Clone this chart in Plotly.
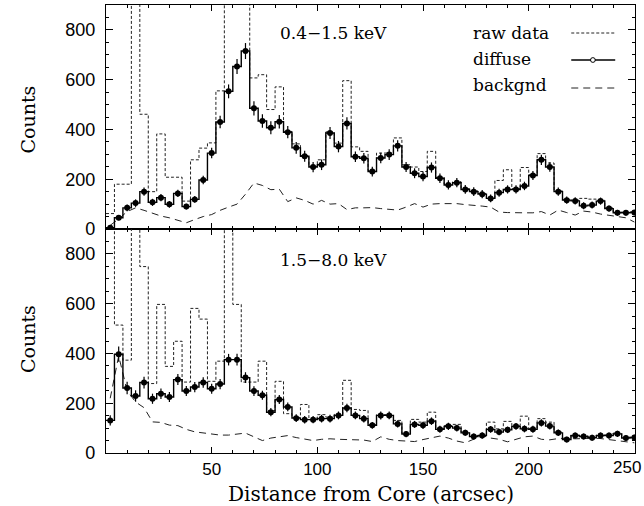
import numpy as np
import plotly.graph_objects as go

# bin centers (arcsec), 4" bins
centers = list(range(2, 252, 4))

soft_diffuse = [5, 45, 85, 104, 150, 107, 126, 99, 143, 90, 119, 197, 305, 430, 553, 653, 715, 485, 434, 407,
                431, 389, 326, 292, 249, 258, 386, 331, 424, 290, 284, 231, 285, 299, 334, 249, 224, 211, 247, 204,
                177, 186, 159, 150, 140, 123, 146, 159, 159, 173, 215, 278, 249, 150, 116, 113, 93, 96, 112, 82,
                65, 65, 66]
soft_raw = [62, 180, 180, 1500, 461, 150, 382, 208, 208, 112, 278, 325, 346, 555, 1500, 1500, 1500, 607, 620, 480,
            571, 392, 342, 295, 252, 278, 390, 345, 596, 330, 312, 235, 305, 305, 366, 258, 249, 231, 312, 207,
            180, 190, 162, 153, 143, 126, 195, 238, 162, 247, 218, 303, 265, 153, 119, 116, 123, 120, 115, 85,
            68, 68, 69]
soft_bkg = [15, 40, 70, 85, 75, 62, 52, 45, 35, 25, 38, 50, 58, 75, 88, 100, 140, 185, 175, 158,
            160, 110, 125, 115, 100, 115, 100, 102, 78, 85, 85, 86, 82, 78, 76, 88, 102, 88, 100, 102,
            102, 102, 98, 96, 92, 88, 68, 66, 67, 65, 65, 70, 56, 76, 66, 56, 72, 68, 60, 55,
            50, 45, 28]

hard_diffuse = [131, 397, 261, 229, 283, 218, 238, 225, 295, 249, 265, 283, 258, 277, 375, 375, 303, 249, 232, 164,
                215, 185, 140, 134, 134, 138, 138, 151, 181, 151, 138, 111, 151, 151, 117, 76, 115, 111, 128, 95,
                107, 100, 81, 66, 70, 95, 84, 93, 107, 97, 95, 121, 108, 81, 54, 70, 66, 61, 70, 70,
                77, 60, 62]
hard_raw = [1500, 514, 373, 1500, 749, 279, 597, 348, 449, 285, 581, 538, 288, 369, 1500, 597, 285, 285, 369, 170,
            288, 158, 143, 195, 140, 154, 144, 155, 292, 175, 171, 114, 154, 154, 131, 79, 135, 124, 164, 98,
            110, 115, 84, 69, 73, 124, 97, 127, 110, 148, 98, 138, 124, 84, 57, 73, 69, 64, 73, 73,
            80, 63, 65]
hard_bkg = [220, 390, 250, 205, 182, 125, 123, 112, 110, 95, 85, 80, 76, 72, 72, 76, 80, 65, 50, 60,
            64, 70, 62, 55, 50, 55, 57, 55, 54, 54, 52, 46, 65, 55, 50, 48, 46, 54, 60, 68,
            60, 48, 41, 55, 70, 60, 55, 45, 55, 65, 68, 55, 53, 58, 60, 57, 58, 60, 58, 54,
            50, 46, 41]

x_tickvals = [50, 100, 150, 200, 250]
x_ticktext = ["50", "100", "150", "200", ""]   # last label drawn separately so it stays inside the page
last_x_label = "250"
y_tickvals = [0, 200, 400, 600, 800]
band_labels = ["0.4\u22121.5 keV", "1.5\u22128.0 keV"]
legend_labels = ["raw data", "diffuse", "backgnd"]

SERIF = "DejaVu Serif"
SANS = "Liberation Sans"

fig = go.Figure()
c = np.array(centers, dtype=float)
edges = np.r_[c - 2, c[-1] + 2]


def steps(v):
    return np.r_[np.array(v, dtype=float), v[-1]]


panels = [(soft_raw, soft_diffuse, soft_bkg, "x", "y"),
          (hard_raw, hard_diffuse, hard_bkg, "x2", "y2")]
for raw, dif, bkg, xa, ya in panels:
    fig.add_trace(go.Scatter(x=edges, y=steps(raw), mode="lines", line_shape="hv",
                             line=dict(color="#222", width=1, dash="3px,2px"),
                             xaxis=xa, yaxis=ya, showlegend=False))
    fig.add_trace(go.Scatter(x=c, y=bkg, mode="lines",
                             line=dict(color="#222", width=1, dash="7px,5px"),
                             xaxis=xa, yaxis=ya, showlegend=False))
    fig.add_trace(go.Scatter(x=edges, y=steps(dif), mode="lines", line_shape="hv",
                             line=dict(color="black", width=1.4),
                             xaxis=xa, yaxis=ya, showlegend=False))
    err = 1.1 * np.sqrt(np.array(dif, dtype=float) + np.array(bkg, dtype=float))
    fig.add_trace(go.Scatter(x=c, y=dif, mode="markers",
                             marker=dict(color="black", size=6, symbol="circle"),
                             error_y=dict(type="data", array=err, color="black", thickness=1.2, width=0),
                             xaxis=xa, yaxis=ya, showlegend=False))

axis_common = dict(showline=True, linecolor="black", linewidth=1.2, mirror="allticks",
                   ticks="inside", tickcolor="black", tickwidth=1, showgrid=False, zeroline=False,
                   tickfont=dict(family=SANS, size=18, color="black"), ticklabeloverflow="allow",
                   automargin=False)
xmin = dict(dtick=10, tick0=0, ticklen=3, ticks="inside", tickcolor="black")
ymin = dict(dtick=50, tick0=0, ticklen=3, ticks="inside", tickcolor="black")

fig.update_layout(
    width=644, height=506,
    margin=dict(l=106, r=9, t=5, b=53, autoexpand=False),
    paper_bgcolor="white", plot_bgcolor="white",
    xaxis=dict(domain=[0, 1], anchor="y", range=[0, 250.3], tickvals=x_tickvals, ticklen=6,
               showticklabels=False, minor=xmin, **axis_common),
    yaxis=dict(domain=[0.5, 1], anchor="x", range=[0, 900], tickvals=y_tickvals, ticklen=7,
               ticklabelstandoff=6, minor=ymin, **axis_common),
    xaxis2=dict(domain=[0, 1], anchor="y2", range=[0, 250.3], tickvals=x_tickvals, ticktext=x_ticktext,
                ticklen=6, ticklabelstandoff=0, minor=xmin, **axis_common),
    yaxis2=dict(domain=[0, 0.5], anchor="x2", range=[0, 900], tickvals=y_tickvals, ticklen=7,
                ticklabelstandoff=6, minor=ymin, **axis_common),
)
fig.update_xaxes(tickfont=dict(family=SANS, size=17, color="black"))

ann = []
# axis titles
for yc in [0.745, 0.255]:
    ann.append(dict(text="Counts", xref="paper", yref="paper", x=-0.147, y=yc, textangle=-90,
                    showarrow=False, font=dict(family=SERIF, size=19, color="black"),
                    xanchor="center", yanchor="middle"))
ann.append(dict(text="Distance from Core (arcsec)", xref="paper", yref="paper", x=0.5, y=-0.091,
                showarrow=False, font=dict(family=SERIF, size=20, color="black"),
                xanchor="center", yanchor="middle"))
ann.append(dict(text=last_x_label, xref="paper", yref="paper", x=1.0151, y=-0.0315, showarrow=False,
                font=dict(family=SANS, size=17, color="black"), xanchor="right", yanchor="middle",
                xshift=0))
# band labels
for lbl, yp in zip(band_labels, [0.9375, 0.4308]):
    ann.append(dict(text=lbl, xref="paper", yref="paper", x=0.4306, y=yp, showarrow=False,
                    font=dict(family=SERIF, size=17, color="black"), xanchor="center", yanchor="middle"))
# legend text
for lbl, yp in zip(legend_labels, [0.9375, 0.8795, 0.8214]):
    ann.append(dict(text=lbl, xref="paper", yref="paper", x=0.6906, y=yp, showarrow=False,
                    font=dict(family=SERIF, size=17, color="black"), xanchor="left", yanchor="middle"))
fig.update_layout(annotations=ann)

shapes = [
    dict(type="line", xref="paper", yref="paper", x0=0.8795, x1=0.9626, y0=0.9375, y1=0.9375,
         line=dict(color="#222", width=1, dash="3px,2px")),
    dict(type="line", xref="paper", yref="paper", x0=0.8795, x1=0.9626, y0=0.8772, y1=0.8772,
         line=dict(color="black", width=1.3)),
    dict(type="circle", xref="paper", yref="paper", x0=0.9204 - 0.0045, x1=0.9204 + 0.0045,
         y0=0.8772 - 0.0053, y1=0.8772 + 0.0053, line=dict(color="black", width=1), fillcolor="white"),
    dict(type="line", xref="paper", yref="paper", x0=0.8795, x1=0.9626, y0=0.8147, y1=0.8147,
         line=dict(color="#222", width=1, dash="7px,5px")),
]
fig.update_layout(shapes=shapes)

fig.write_html("out.html")
